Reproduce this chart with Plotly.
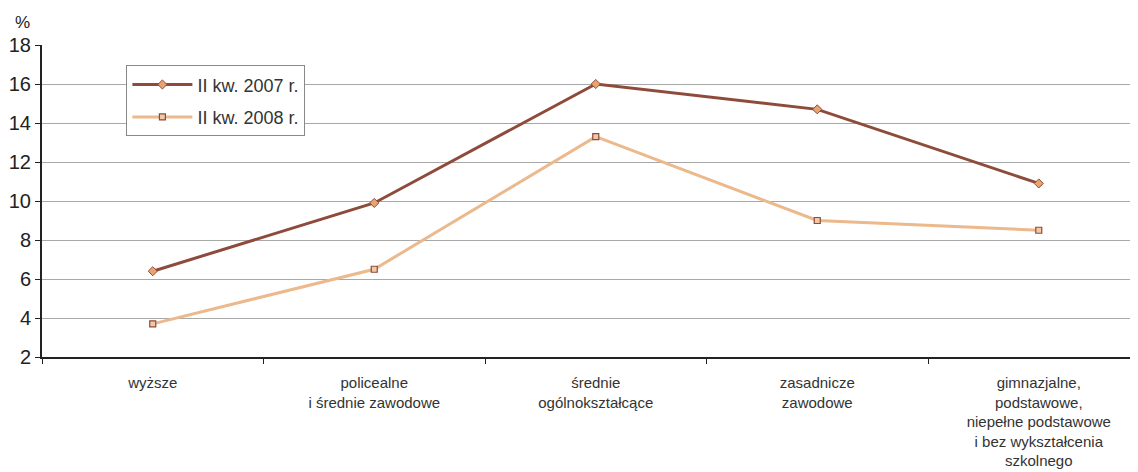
import plotly.graph_objects as go

categories = [
    "wyższe",
    "policealne<br>i średnie zawodowe",
    "średnie<br>ogólnokształcące",
    "zasadnicze<br>zawodowe",
    "gimnazjalne,<br>podstawowe,<br>niepełne podstawowe<br>i bez wykształcenia<br>szkolnego",
]
series_2007 = [6.4, 9.9, 16.0, 14.7, 10.9]
series_2008 = [3.7, 6.5, 13.3, 9.0, 8.5]
name_2007 = "II kw. 2007 r."
name_2008 = "II kw. 2008 r."
y_ticks = [2, 4, 6, 8, 10, 12, 14, 16, 18]

fig = go.Figure()
fig.add_trace(go.Scatter(
    x=categories, y=series_2007, name=name_2007, mode="lines+markers",
    legendgroup="a",
    line=dict(color="#8E4B3B", width=3),
    marker=dict(symbol="diamond", size=7, color="#E9A36F",
                line=dict(color="#8E4B3B", width=1)),
))
fig.add_trace(go.Scatter(
    x=categories, y=series_2008, name=name_2008, mode="lines+markers",
    legendgroup="b",
    line=dict(color="#EBB98C", width=3),
    marker=dict(symbol="square", size=6, color="#F1C9A6",
                line=dict(color="#8E4B3B", width=1.2)),
))

fig.update_layout(
    width=1130, height=464,
    margin=dict(l=34, r=0, t=37, b=115),
    paper_bgcolor="white", plot_bgcolor="white",
    font=dict(family="Liberation Sans, Arial, sans-serif", color="#222", size=15),
    showlegend=True,
    legend=dict(
        x=0.077, y=0.935, xanchor="left", yanchor="top",
        bgcolor="white", bordercolor="#888", borderwidth=1,
        font=dict(size=18, color="#333"),
        itemwidth=60, traceorder="grouped", tracegroupgap=6,
    ),
    annotations=[dict(text="%", xref="paper", yref="paper", x=-0.018, y=1.035,
                      xanchor="center", yanchor="bottom", showarrow=False,
                      font=dict(size=17, color="#222"))],
)
fig.update_xaxes(
    type="category", range=[-0.5, 4.448],
    showline=True, linecolor="#222", linewidth=2,
    ticks="outside", tickson="boundaries", ticklen=5, tickcolor="#222",
    ticklabelstandoff=11,
    showgrid=False, tickfont=dict(size=15, color="#333"),
    automargin=False,
)
fig.update_yaxes(
    range=[2, 18], tickvals=y_ticks, showline=True, linecolor="#222", linewidth=2,
    ticks="outside", ticklen=5, tickcolor="#222",
    showgrid=True, gridcolor="#A8A8A8", gridwidth=1,
    tickfont=dict(size=20, color="#222"), zeroline=False,
    automargin=False,
)

fig.write_html("out.html")
